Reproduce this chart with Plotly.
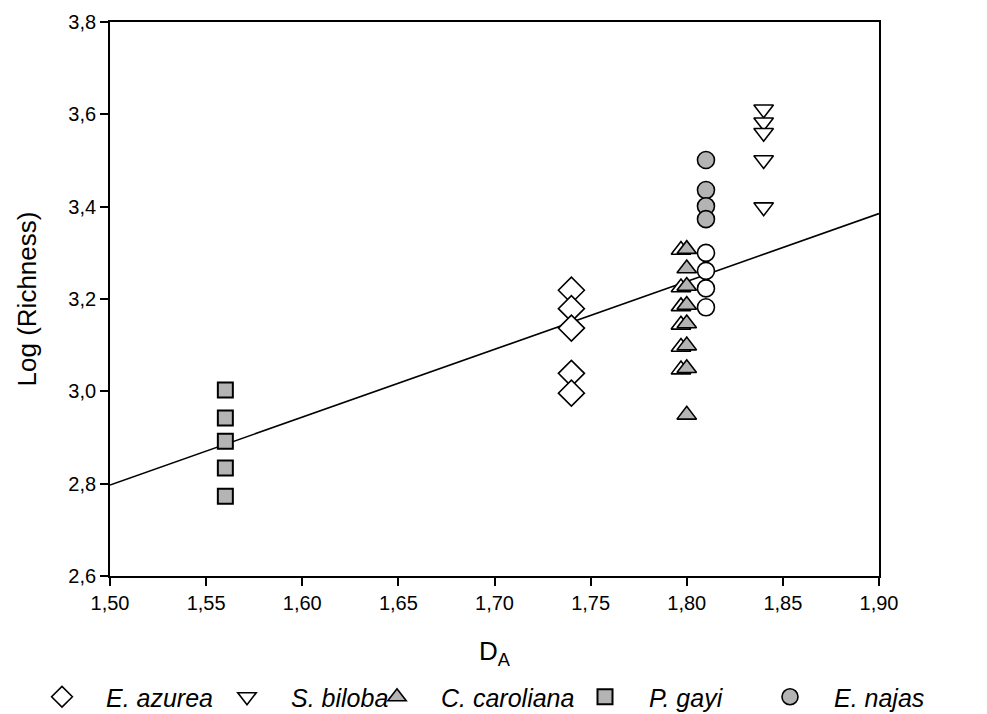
import plotly.graph_objects as go

# Data
azurea_x = [1.74, 1.74, 1.74, 1.74, 1.74]
azurea_y = [3.219, 3.179, 3.137, 3.039, 2.996]

biloba_x = [1.84, 1.84, 1.84, 1.84, 1.84]
biloba_y = [3.611, 3.583, 3.560, 3.501, 3.399]

caroliana_x = [1.80, 1.80, 1.80, 1.80, 1.80, 1.80, 1.80, 1.80]
caroliana_y = [3.308, 3.266, 3.228, 3.187, 3.147, 3.099, 3.050, 2.949]

caroliana_open_x = [1.797, 1.797, 1.797, 1.797, 1.797, 1.797]
caroliana_open_y = [3.306, 3.225, 3.184, 3.144, 3.096, 3.047]

gayi_x = [1.56, 1.56, 1.56, 1.56, 1.56]
gayi_y = [3.003, 2.942, 2.892, 2.834, 2.773]

najas_x = [1.81, 1.81, 1.81, 1.81]
najas_y = [3.501, 3.436, 3.401, 3.373]

najas_open_x = [1.81, 1.81, 1.81, 1.81]
najas_open_y = [3.300, 3.261, 3.223, 3.182]

fit_x = [1.50, 1.90]
fit_y = [2.797, 3.385]

FONT = "Arial, 'Liberation Sans', sans-serif"
GRAY = "#b4b4b4"

fig = go.Figure()

fig.add_trace(go.Scatter(x=fit_x, y=fit_y, mode="lines",
                         line=dict(color="black", width=1.6), showlegend=False,
                         hoverinfo="skip"))

fig.add_trace(go.Scatter(x=azurea_x, y=azurea_y, mode="markers", name="E. azurea",
                         legend="legend",
                         marker=dict(symbol="diamond", size=20, color="white",
                                     line=dict(color="black", width=1.6))))
fig.add_trace(go.Scatter(x=biloba_x, y=biloba_y, mode="markers", name="S. biloba",
                         legend="legend2",
                         marker=dict(symbol="triangle-down", size=17, color="white",
                                     line=dict(color="black", width=1.6))))
fig.add_trace(go.Scatter(x=caroliana_open_x, y=caroliana_open_y, mode="markers",
                         showlegend=False,
                         marker=dict(symbol="triangle-up", size=17, color="white",
                                     line=dict(color="black", width=1.6))))
fig.add_trace(go.Scatter(x=caroliana_x, y=caroliana_y, mode="markers", name="C. caroliana",
                         legend="legend3",
                         marker=dict(symbol="triangle-up", size=17, color=GRAY,
                                     line=dict(color="black", width=1.6))))
fig.add_trace(go.Scatter(x=gayi_x, y=gayi_y, mode="markers", name="P. gayi",
                         legend="legend4",
                         marker=dict(symbol="square", size=15, color=GRAY,
                                     line=dict(color="black", width=2))))
fig.add_trace(go.Scatter(x=najas_open_x, y=najas_open_y, mode="markers",
                         showlegend=False,
                         marker=dict(symbol="circle", size=17, color="white",
                                     line=dict(color="black", width=1.6))))
fig.add_trace(go.Scatter(x=najas_x, y=najas_y, mode="markers", name="E. najas",
                         legend="legend5",
                         marker=dict(symbol="circle", size=17, color=GRAY,
                                     line=dict(color="black", width=1.6))))

axis_common = dict(showgrid=False, zeroline=False, showline=True, linecolor="black",
                   linewidth=1.8, mirror=True, ticks="outside", ticklen=8,
                   tickwidth=1.6, tickcolor="black", automargin=False,
                   tickfont=dict(family=FONT, size=20, color="black"))


def legend_at(left_px):
    return dict(orientation="h", xref="container", yref="container",
                x=left_px / 987, y=(714 - 697) / 714, xanchor="left", yanchor="middle",
                font=dict(family=FONT, size=25, style="italic"),
                bgcolor="rgba(0,0,0,0)", itemsizing="trace", itemwidth=78)


fig.update_layout(
    width=987, height=714,
    margin=dict(l=110, r=108, t=22, b=138, autoexpand=False),
    paper_bgcolor="white", plot_bgcolor="white",
    separators=",.",
    font=dict(family=FONT, color="black"),
    xaxis=dict(range=[1.50, 1.90], tickvals=[1.50, 1.55, 1.60, 1.65, 1.70, 1.75, 1.80, 1.85, 1.90],
               tickformat=".2f",
               title=dict(text="D<sub>A</sub>", font=dict(family=FONT, size=26), standoff=29),
               **axis_common),
    yaxis=dict(range=[2.6, 3.8], tickvals=[2.6, 2.8, 3.0, 3.2, 3.4, 3.6, 3.8],
               tickformat=".1f",
               title=dict(text="Log (Richness)", font=dict(family=FONT, size=26), standoff=24),
               **axis_common),
    legend=legend_at(18),
    legend2=legend_at(203),
    legend3=legend_at(353),
    legend4=legend_at(561),
    legend5=legend_at(746),
)

fig.write_html("out.html", post_script="document.body.style.margin='0px';",
               config={"displayModeBar": False})
